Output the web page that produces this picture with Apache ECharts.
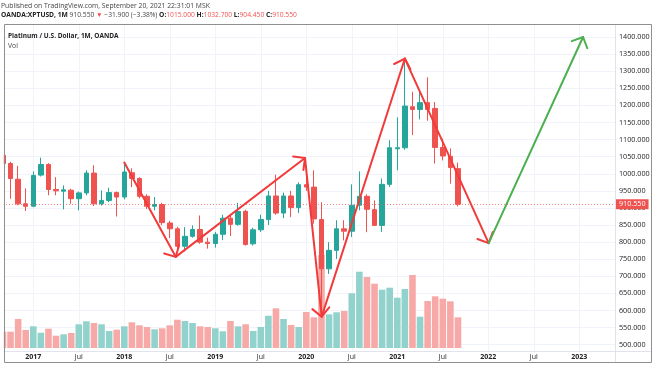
<!DOCTYPE html>
<html><head><meta charset="utf-8">
<script src="https://cdn.jsdelivr.net/npm/echarts@6/dist/echarts.min.js"></script>
<style>html,body{margin:0;padding:0;background:#fff}#c{width:654px;height:366px}</style>
</head><body><div id="c"></div>
<script>
// Monthly candles, Sep 2016 .. Sep 2021 (month index 0 = Jan 2017)
const firstMonthIndex = -4;
const opens  = [1054,1030,984,912, 905,996,1027,954,949,952,927,944,1002,912,922,945,
                932,1003,986,934,905,910,856,839,788,817,837,800,
                796,823,870,852,890,795,836,866,935,885,935,901,
                968,961,866,722,776,839,832,908,934,895,849,969,
                1073,1076,1196,1188,1208,1191,1077,1051,1015];
const closes = [1030,986,912,905, 995,1027,954,950,953,927,944,1002,912,922,945,932,
                1005,986,934,905,910,857,839,788,817,837,800,796,
                823,870,852,890,793,836,866,935,885,935,901,968,
                961,868,722,776,839,832,908,934,896,849,969,1076,
                1076,1198,1188,1208,1188,1077,1052,1018,910.55];
const lows   = [1020,927,908,891, 902,992,937,937,896,912,893,937,906,907,917,875,
                925,961,928,897,893,850,812,776,773,813,795,781,
                784,806,818,848,790,790,830,850,880,870,873,885,
                950,854,590,707,751,805,815,893,829,847,830,961,
                1010,1070,1113,1159,1155,1030,1039,971,904.45];
const highs  = [1060,1035,1023,957, 1007,1047,1031,990,966,956,948,1010,1025,951,959,948,
                1029,1016,990,940,932,915,862,845,844,849,878,813,
                830,880,880,915,895,842,880,950,997,945,950,975,
                1022,1010,917,800,864,864,969,1007,940,922,986,1098,
                1165,1328,1240,1245,1282,1210,1103,1074,1032.7];
// Volume (thousands, relative), same months
const volumes = [16.3,16.3,29,18, 21.7,15.3,19.3,12.3,13.7,15,23.7,26.7,25,23.7,17,18.3,
                 21.7,25.7,22.7,21,18.7,19.7,22.7,28.3,27,25,21.7,21,
                 19.7,16.7,27,21.7,23.7,17,21,32.3,39.7,29,23,21,
                 36,30.7,93,33.7,35.7,37,54.7,76.3,71,64.3,58.3,60.3,
                 50.3,59,73,31.3,47,51.7,49.3,46.7,30.7];
// Time-axis tick positions (month index) and their labels
const timeTickValues = [0,6,12,18,24,30,36,42,48,54,60,66,72];
const timeTicks = ['2017','Jul','2018','Jul','2019','Jul','2020','Jul','2021','Jul','2022','Jul','2023'];
// Hand-drawn arrows (month index, price)
const redArrowPath   = [[12,1033],[18.78,757],[35.83,1046],[38.03,582],[49,1337],[60.05,797]];
const greenArrowPath = [[60.05,797],[72.5,1400]];
const lastPrice = 910.55;

const UP='#26a69a', DOWN='#ef5350', VUP='#92d2cc', VDOWN='#f7a9a7';
const FONT = 'Open Sans';
const candleData = opens.map((o,i)=>[i+firstMonthIndex, o, closes[i], lows[i], highs[i]]);
const volData = volumes.map((v,i)=>({value:[i+firstMonthIndex, v],
  itemStyle:{color: closes[i]>=opens[i]?VUP:VDOWN}}));

function segs(path){const s=[];for(let i=0;i<path.length-1;i++)s.push([path[i][0],path[i][1],path[i+1][0],path[i+1][1]]);return s;}
function arrowRender(color){return function(params, api){
  const a=api.coord([api.value(0),api.value(1)]);
  const b=api.coord([api.value(2),api.value(3)]);
  const ang=Math.atan2(a[1]-b[1],a[0]-b[0]);
  const L=12, w=Math.PI/4;
  const w1=[b[0]+L*Math.cos(ang+w),b[1]+L*Math.sin(ang+w)];
  const w2=[b[0]+L*Math.cos(ang-w),b[1]+L*Math.sin(ang-w)];
  const style={stroke:color,lineWidth:2,fill:null,lineCap:'round',lineJoin:'round'};
  return {type:'group',children:[
    {type:'polyline',shape:{points:[a,b]},style:style},
    {type:'polyline',shape:{points:[w1,b,w2]},style:style}]};
};}

const X0=-4.391, X1=76.71, GL=0, GR=39;
const chart = echarts.init(document.getElementById('c'), null, {renderer:'canvas'});
chart.setOption({
  animation:false,
  textStyle:{fontFamily:FONT},
  grid:[
    {left:GL,right:GR,top:25,bottom:15},
    {left:GL,right:GR,top:37,bottom:21.3},
    {left:GL,right:GR,top:25,bottom:18}
  ],
  xAxis:[
    {gridIndex:0,type:'value',min:X0,max:X1,
     axisLine:{show:true,lineStyle:{color:'#e0e3eb'}},
     axisTick:{show:false,customValues:timeTickValues},
     splitLine:{show:true,lineStyle:{color:'#f0f3fa'}},
     axisLabel:{margin:2,fontSize:7,color:'#222',customValues:timeTickValues,
       formatter:function(v){const k=timeTickValues.indexOf(Math.round(v));if(k<0)return '';
         return k%2===0?'{y|'+timeTicks[k]+'}':timeTicks[k];},
       rich:{y:{fontWeight:'bold',fontSize:7,color:'#222'}}}},
    {gridIndex:1,type:'value',min:X0,max:X1,show:false},
    {gridIndex:2,type:'value',min:X0,max:X1,show:false}
  ],
  yAxis:[
    {gridIndex:0,type:'value',min:0,max:1,show:false},
    {gridIndex:1,type:'value',position:'right',min:500,max:1400,interval:50,
     axisLine:{show:false},axisTick:{show:false},
     splitLine:{show:true,lineStyle:{color:'#f0f3fa'}},
     axisLabel:{margin:4,fontSize:7.2,color:'#222',formatter:v=>v.toFixed(3)}},
    {gridIndex:2,type:'value',min:0,max:323,show:false}
  ],
  series:[
    {type:'bar',xAxisIndex:2,yAxisIndex:2,barWidth:6.6,data:volData,z:1},
    {type:'candlestick',xAxisIndex:1,yAxisIndex:1,data:candleData,
     encode:{x:0,y:[1,2,3,4]},barWidth:5,z:3,
     itemStyle:{color:UP,color0:DOWN,borderColor:UP,borderColor0:DOWN,borderWidth:1},
     markLine:{silent:true,symbol:['none','none'],animation:false,
       lineStyle:{type:[1,2],color:'rgba(239,83,80,0.7)',width:1},
       label:{show:true,position:'end',distance:1,formatter:lastPrice.toFixed(3),
         backgroundColor:DOWN,color:'#fff',opacity:1,fontSize:7.2,padding:[2,3,1,3]},
       data:[{yAxis:lastPrice}]}},
    {type:'custom',xAxisIndex:1,yAxisIndex:1,clip:false,z:5,
     encode:{x:[0,2],y:[1,3]},data:segs(redArrowPath),renderItem:arrowRender('#f23a3a')},
    {type:'custom',xAxisIndex:1,yAxisIndex:1,clip:false,z:5,
     encode:{x:[0,2],y:[1,3]},data:segs(greenArrowPath),renderItem:arrowRender('#4caf50')}
  ],
  graphic:[
    {type:'rect',z:100,shape:{x:0,y:20,width:3.8,height:346},style:{fill:'#fff'}},
    {type:'line',z:101,shape:{x1:615.5,y1:24.5,x2:615.5,y2:362.5},style:{stroke:'#e0e3eb',lineWidth:1}},
    {type:'line',z:101,shape:{x1:4.5,y1:351.5,x2:651.5,y2:351.5},style:{stroke:'#e0e3eb',lineWidth:1}},
    {type:'rect',z:102,shape:{x:4.5,y:24.5,width:647,height:338},style:{fill:null,stroke:'#8f8f8f',lineWidth:1}},
    {type:'text',z:103,style:{x:1,y:6,verticalAlign:'middle',text:'Published on TradingView.com, September 20, 2021 22:31:01 MSK',
      fontSize:6.8,fontFamily:FONT,fill:'#444'}},
    {type:'text',z:103,style:{x:1,y:15.5,verticalAlign:'middle',
      text:'{b|OANDA:XPTUSD, 1M} {n|910.550} {r|▼} {n|−31.900 (−3.38%)} {b|O:}{r|1015.000} {b|H:}{r|1032.700} {b|L:}{r|904.450} {b|C:}{r|910.550}',
      fontSize:6.7,fontFamily:FONT,fill:'#222',
      rich:{b:{fontWeight:'bold',fontSize:6.7,fontFamily:FONT,fill:'#222'},
            n:{fontSize:6.7,fontFamily:FONT,fill:'#444'},
            r:{fontSize:6.7,fontFamily:FONT,fill:'#ef5350'}}}},
    {type:'text',z:103,style:{x:8,y:36.5,verticalAlign:'middle',text:'Platinum / U.S. Dollar, 1M, OANDA',
      fontSize:6.5,fontWeight:'bold',fontFamily:FONT,fill:'#222'}},
    {type:'text',z:103,style:{x:8,y:46,verticalAlign:'middle',text:'Vol',fontSize:6.8,fontFamily:FONT,fill:'#444'}}
  ]
});
</script></body></html>
